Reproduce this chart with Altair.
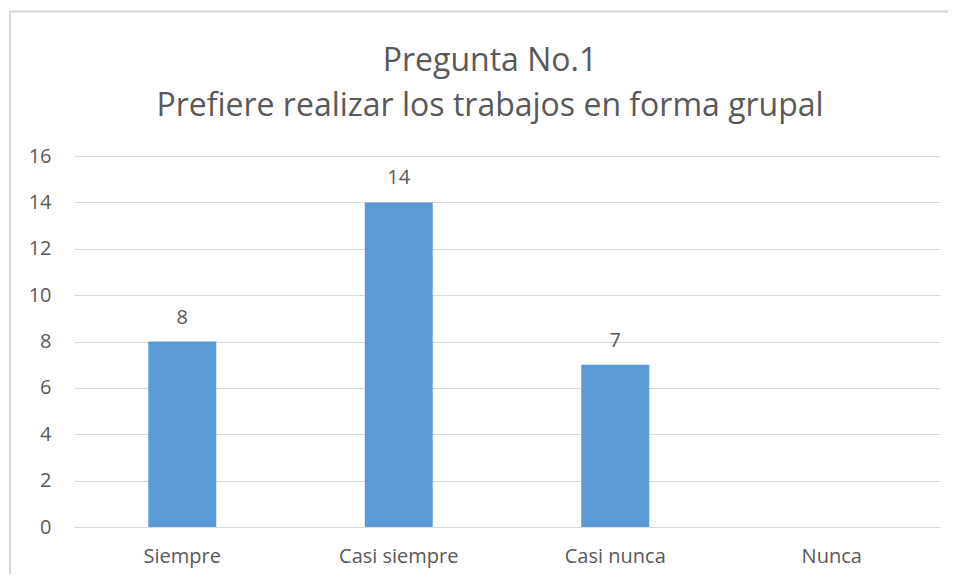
import altair as alt
import pandas as pd

categories = ["Siempre", "Casi siempre", "Casi nunca", "Nunca"]
values = [8, 14, 7, 0]
y_ticks = [0, 2, 4, 6, 8, 10, 12, 14, 16]
title_lines = ["Pregunta No.1", "Prefiere realizar los trabajos en forma grupal"]

df = pd.DataFrame({"cat": categories, "val": values})

FONT = "Open Sans"
TXT = "#595959"
GRID = "#d9d9d9"

x_enc = alt.X(
    "cat:N",
    sort=categories,
    scale=alt.Scale(paddingInner=0.686, paddingOuter=0.343),
    axis=alt.Axis(title=None, domain=False, ticks=False, labelAngle=0,
                  labelPadding=19, labelFontSize=20, labelColor=TXT,
                  labelFont=FONT, grid=False),
)
y_enc = alt.Y(
    "val:Q",
    scale=alt.Scale(domain=[0, 16], nice=False),
    axis=alt.Axis(title=None, domain=False, ticks=False, values=y_ticks,
                  labelPadding=23, labelFontSize=20, labelColor=TXT,
                  labelFont=FONT, grid=True, gridColor=GRID, gridWidth=1.2),
)

bars = alt.Chart(df).mark_bar(color="#5b9bd5").encode(x=x_enc, y=y_enc)

labels = alt.Chart(df).transform_filter(alt.datum.val > 0).mark_text(
    font=FONT, fontSize=20, color=TXT, baseline="alphabetic", dy=-18
).encode(x=alt.X("cat:N", sort=categories), y="val:Q", text="val:Q")

border_v = alt.Chart(df).mark_rule(color=GRID, strokeWidth=1.5, clip=False).encode(
    x=alt.value(-64), y=alt.value(-144.5), y2=alt.value(460)
)
border_h = alt.Chart(df).mark_rule(color=GRID, strokeWidth=1.5, clip=False).encode(
    x=alt.value(-64), x2=alt.value(900), y=alt.value(-144.5)
)

chart = alt.layer(border_v, border_h, bars, labels).properties(
    width=866,
    height=371,
    autosize=alt.AutoSizeParams(type="none"),
    padding={"left": 66, "top": 148, "right": 8, "bottom": 47},
    background="white",
    title=alt.TitleParams(
        text=title_lines, font=FONT, fontSize=32, fontWeight="normal",
        color=TXT, anchor="middle", frame="group", dx=-17, offset=-112,
        lineHeight=45,
    ),
).configure_view(strokeWidth=0)

chart.save("out.html", embed_options={"renderer": "svg", "actions": False})
